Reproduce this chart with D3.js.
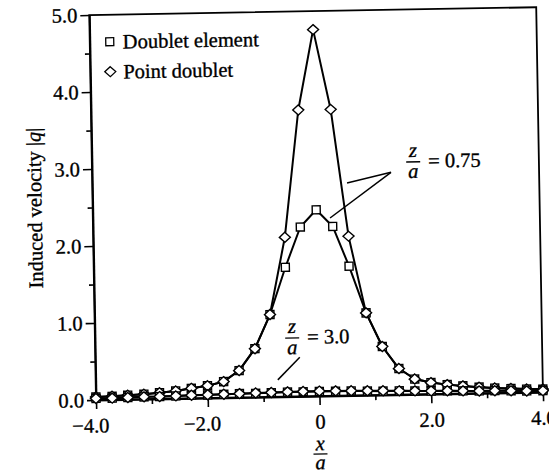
<!DOCTYPE html>
<html>
<head>
<meta charset="utf-8">
<script src="https://cdn.jsdelivr.net/npm/d3@7/dist/d3.min.js"></script>
<style>
	body { margin: 0; background: #fff; }
	svg { font-family: "Liberation Serif", "Times New Roman", serif; }
	svg text { stroke: #000; stroke-width: 0.35px; }
</style>
</head>
<body>
<svg id="chart" width="549" height="473"></svg>
<script>
// sample positions x/a (shared by all four series)
const xPts = [-4.00, -3.71, -3.43, -3.14, -2.86, -2.57, -2.29, -2.00, -1.71, -1.43, -1.14, -0.86, -0.57, -0.29, 0.00,
	0.29, 0.57, 0.86, 1.14, 1.43, 1.71, 2.00, 2.29, 2.57, 2.86, 3.14, 3.43, 3.71, 4.00];

// z/a = 0.75
const elem075 = [0.04, 0.045, 0.055, 0.065, 0.08, 0.10, 0.13, 0.16, 0.21, 0.35, 0.63, 1.07, 1.68, 2.20, 2.42,
	2.20, 1.68, 1.07, 0.63, 0.34, 0.20, 0.15, 0.12, 0.10, 0.08, 0.065, 0.055, 0.045, 0.04];
const point075 = [0.04, 0.045, 0.055, 0.065, 0.08, 0.10, 0.13, 0.16, 0.21, 0.35, 0.63, 1.07, 2.07, 3.72, 4.76,
	3.72, 2.07, 1.07, 0.63, 0.34, 0.20, 0.15, 0.12, 0.10, 0.08, 0.065, 0.055, 0.045, 0.04];

// z/a = 3.0
const elem30 = [0.02, 0.02, 0.025, 0.03, 0.03, 0.035, 0.04, 0.04, 0.045, 0.05, 0.05, 0.055, 0.06, 0.06, 0.06,
	0.06, 0.06, 0.055, 0.05, 0.05, 0.045, 0.04, 0.04, 0.035, 0.03, 0.03, 0.025, 0.02, 0.02];
const point30 = [0.02, 0.02, 0.025, 0.03, 0.03, 0.035, 0.04, 0.042, 0.046, 0.05, 0.055, 0.058, 0.062, 0.064, 0.065,
	0.064, 0.062, 0.058, 0.055, 0.05, 0.046, 0.042, 0.04, 0.035, 0.03, 0.03, 0.025, 0.02, 0.02];

const xTickVals = [-4, -2, 0, 2, 4];
const xTickLabels = ["\u22124.0", "\u22122.0", "0", "2.0", "4.0"];
const xMinorVals = [-3, -1, 1, 3];
const yTickVals = [0, 1, 2, 3, 4, 5];
const yTickLabels = ["0.0", "1.0", "2.0", "3.0", "4.0", "5.0"];
const yMinorVals = [0.5, 1.5, 2.5, 3.5, 4.5];
const legendNames = ["Doublet element", "Point doublet"];

const W = 549, H = 473;
const m = { top: 15, right: 6, bottom: 73, left: 96 };
const iw = W - m.left - m.right;
const ih = H - m.top - m.bottom;
const FS = 20.5;

const svg = d3.select("#chart");
// the scanned figure sits about one degree off level
const g = svg.append("g")
	.attr("transform", `rotate(-1, ${m.left}, ${m.top + ih}) translate(${m.left}, ${m.top})`);

const x = d3.scaleLinear().domain([-4, 4]).range([0, iw]);
const y = d3.scaleLinear().domain([0, 5]).range([ih, 0]);

function styleAxis(sel) {
	sel.select(".domain").attr("stroke", "#000").attr("stroke-width", 2);
	sel.selectAll(".tick line").attr("stroke", "#000").attr("stroke-width", 1.6);
	sel.selectAll(".tick text").attr("fill", "#000")
		.attr("font-size", FS + "px").attr("font-family", "Liberation Serif, serif");
}

// frame
g.append("rect")
	.attr("x", 0).attr("y", 0).attr("width", iw).attr("height", ih)
	.attr("fill", "none").attr("stroke", "#000").attr("stroke-width", 1.8);

// y axis
g.append("g")
	.call(d3.axisLeft(y).tickValues(yTickVals).tickFormat((d, i) => yTickLabels[i])
		.tickSize(9).tickSizeOuter(0).tickPadding(3))
	.call(styleAxis);
g.append("g")
	.call(d3.axisLeft(y).tickValues(yMinorVals).tickFormat("").tickSize(5).tickSizeOuter(0))
	.call(styleAxis)
	.call(s => s.select(".domain").remove());

// x axis
g.append("g")
	.attr("transform", `translate(0, ${ih})`)
	.call(d3.axisBottom(x).tickValues(xTickVals).tickFormat((d, i) => xTickLabels[i])
		.tickSize(9).tickSizeOuter(0).tickPadding(9))
	.call(styleAxis)
	.call(s => s.selectAll(".tick text").attr("dx", d => d < 0 ? "-0.3em" : 0));
g.append("g")
	.attr("transform", `translate(0, ${ih})`)
	.call(d3.axisBottom(x).tickValues(xMinorVals).tickFormat("").tickSize(5).tickSizeOuter(0))
	.call(styleAxis)
	.call(s => s.select(".domain").remove());

// axis titles
const yt = g.append("text")
	.attr("transform", "rotate(-90)")
	.attr("x", -192).attr("y", -51)
	.attr("text-anchor", "middle").attr("font-size", FS + "px")
	.text("Induced velocity |");
yt.append("tspan").attr("font-style", "italic").text("q");
yt.append("tspan").text("|");

const xt = g.append("g").attr("transform", `translate(${x(0)}, ${ih})`);
xt.append("text").attr("x", 0).attr("y", 54).attr("text-anchor", "middle")
	.attr("font-size", FS + "px").attr("font-style", "italic").text("x");
xt.append("line").attr("x1", -7).attr("x2", 7).attr("y1", 58).attr("y2", 58)
	.attr("stroke", "#000").attr("stroke-width", 1.3);
xt.append("text").attr("x", 0).attr("y", 73).attr("text-anchor", "middle")
	.attr("font-size", FS + "px").attr("font-style", "italic").text("a");

// series
const series = [
	{ vals: elem075, shape: "square" },
	{ vals: point075, shape: "diamond" },
	{ vals: elem30, shape: "square" },
	{ vals: point30, shape: "diamond" }
];

const line = d3.line().x((d, i) => x(xPts[i])).y(d => y(d));
const lines = g.append("g");
series.forEach(s => {
	lines.append("path").datum(s.vals)
		.attr("fill", "none").attr("stroke", "#000").attr("stroke-width", 2)
		.attr("stroke-linejoin", "round")
		.attr("d", line);
});

const sqPath = d3.symbol().type(d3.symbolSquare).size(64)();
function diamondPath(w, h) {
	return `M0,${-h / 2}L${w / 2},0L0,${h / 2}L${-w / 2},0Z`;
}
const dmPath = diamondPath(11, 10);

const marks = g.append("g");
series.forEach(s => {
	marks.append("g").selectAll("path").data(s.vals).join("path")
		.attr("transform", (d, i) => `translate(${x(xPts[i])}, ${y(d)})`)
		.attr("d", s.shape === "square" ? sqPath : dmPath)
		.attr("fill", "#fff").attr("stroke", "#000").attr("stroke-width", 1.4);
});

// legend
const leg = g.append("g").attr("transform", "translate(20, 27)");
legendNames.forEach((name, i) => {
	const row = leg.append("g").attr("transform", `translate(0, ${i * 30})`);
	row.append("path").attr("d", i === 0 ? sqPath : dmPath)
		.attr("fill", "#fff").attr("stroke", "#000").attr("stroke-width", 1.3);
	row.append("text").attr("x", 13).attr("y", 7)
		.attr("font-size", FS + "px").text(name);
});

// annotations
function fracLabel(px, py, rest) {
	const a = g.append("g").attr("transform", `translate(${px}, ${py})`);
	a.append("text").attr("x", 0).attr("y", -5).attr("text-anchor", "middle")
		.attr("font-size", FS + "px").attr("font-style", "italic").text("z");
	a.append("line").attr("x1", -7).attr("x2", 7).attr("y1", 0).attr("y2", 0)
		.attr("stroke", "#000").attr("stroke-width", 1.3);
	a.append("text").attr("x", 0).attr("y", 16).attr("text-anchor", "middle")
		.attr("font-size", FS + "px").attr("font-style", "italic").text("a");
	a.append("text").attr("x", 15).attr("y", 6)
		.attr("font-size", FS + "px").text(rest);
}
function leader(x1, y1, x2, y2) {
	g.append("line")
		.attr("x1", x(x1)).attr("y1", y(y1)).attr("x2", x(x2)).attr("y2", y(y2))
		.attr("stroke", "#000").attr("stroke-width", 1.5);
}

fracLabel(x(1.75), y(3.02), "= 0.75");
leader(1.35, 2.89, 0.56, 2.76);
leader(1.35, 2.89, 0.245, 2.31);

fracLabel(x(-0.47), y(0.76), "= 3.0");
leader(-0.34, 0.51, -0.74, 0.22);
</script>
</body>
</html>
